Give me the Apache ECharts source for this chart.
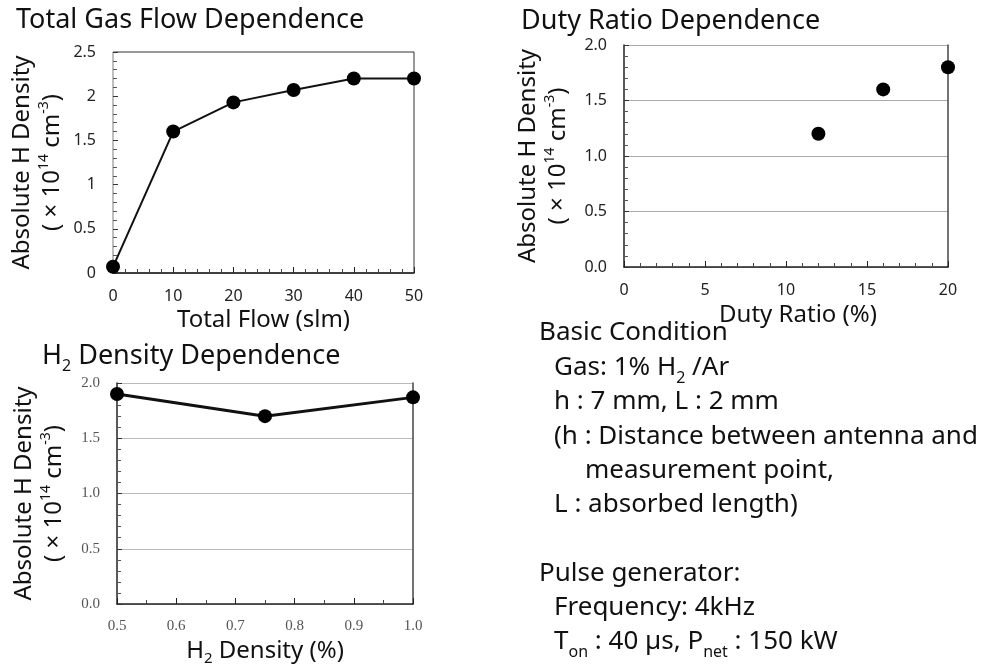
<!DOCTYPE html>
<html>
<head>
<meta charset="utf-8">
<script src="https://cdn.jsdelivr.net/npm/echarts@6/dist/echarts.min.js"></script>
<style>
  html, body { margin: 0; padding: 0; background: #fff; }
  #main { width: 992px; height: 668px; }
</style>
</head>
<body>
<div id="main"></div>
<script>
// total gas flow dependence
var flowX = [0, 10, 20, 30, 40, 50];
var flowY = [0.07, 1.6, 1.93, 2.07, 2.2, 2.2];
// duty ratio dependence
var dutyX = [12, 16, 20];
var dutyY = [1.2, 1.6, 1.8];
// H2 density dependence
var h2X = [0.5, 0.75, 1.0];
var h2Y = [1.9, 1.7, 1.87];

var FONT = 'Noto Sans';
var SERIF = 'Liberation Serif';

function pairs(xs, ys) {
  return xs.map(function (x, i) { return [x, ys[i]]; });
}

var densityName = 'Absolute H Density\n( × 10{sup|14} cm{sup|-3})';
var nameRich = {
  sup: { fontSize: 14, lineHeight: 14, verticalAlign: 'top', fontFamily: FONT, color: '#111' }
};

function yAxisCfg(idx, max, gap, fmt, labelFont, lineColor) {
  return {
    type: 'value', gridIndex: idx, min: 0, max: max, interval: 0.5,
    name: densityName, nameLocation: 'middle', nameGap: gap, nameRotate: 90,
    nameTextStyle: { fontFamily: FONT, fontSize: 24, lineHeight: 30, color: '#111', rich: nameRich },
    axisLine: { show: true, lineStyle: { color: lineColor, width: 1.5 } },
    axisTick: { show: true, inside: true, length: 5, lineStyle: { color: '#333' } },
    minorTick: { show: true, splitNumber: 5, length: 4, lineStyle: { color: '#555' } },
    axisLabel: { formatter: fmt, fontFamily: labelFont.family, fontSize: labelFont.size, color: labelFont.color, margin: 17 },
    splitLine: { show: false }
  };
}

// plain right-hand frame line
function rightFrame(idx, max) {
  return {
    type: 'value', gridIndex: idx, position: 'right', min: 0, max: max, interval: 0.5,
    axisLine: { show: true, lineStyle: { color: '#444', width: 1.5 } },
    axisTick: { show: false }, axisLabel: { show: false }, splitLine: { show: false }
  };
}

function xAxisCfg(idx, min, max, interval, minorSplit, name, gap, fmt, labelFont, namePad) {
  return {
    type: 'value', gridIndex: idx, min: min, max: max, interval: interval,
    name: name, nameLocation: 'middle', nameGap: gap,
    nameTextStyle: { fontFamily: FONT, fontSize: 24, lineHeight: 30, color: '#111', padding: namePad,
      rich: { sub: { fontSize: 15, lineHeight: 12, verticalAlign: 'bottom', fontFamily: FONT, color: '#111' } } },
    axisLine: { show: true, onZero: false, lineStyle: { color: '#222', width: 1.5 } },
    axisTick: { show: true, inside: true, length: 6, lineStyle: { color: '#222' } },
    minorTick: { show: true, splitNumber: minorSplit, length: 4, lineStyle: { color: '#444' } },
    axisLabel: { formatter: fmt, fontFamily: labelFont.family, fontSize: labelFont.size, color: labelFont.color, margin: 15 },
    splitLine: { show: false }
  };
}

var sansLabel = { family: FONT, size: 16, color: '#222' };
var serifLabel = { family: SERIF, size: 15, color: '#555' };
var oneDec = function (v) { return v.toFixed(1); };

var subRich = { sub: { fontSize: 16, lineHeight: 15, verticalAlign: 'bottom', fontFamily: FONT, fill: '#111' } };

function textLine(x, y, text, size) {
  return {
    type: 'text', x: x, y: y, silent: true,
    style: {
      text: text, fontFamily: FONT, fontSize: size, lineHeight: 36, fill: '#111',
      verticalAlign: 'middle', rich: subRich
    }
  };
}

var graphics = [
  textLine(16, 20, 'Total Gas Flow Dependence', 27),
  textLine(521, 21, 'Duty Ratio Dependence', 27),
  textLine(42, 356, 'H{sub|2} Density Dependence', 27),
  textLine(539, 333, 'Basic Condition', 26),
  textLine(554, 368, 'Gas: 1% H{sub|2} /Ar', 26),
  textLine(554, 402, 'h : 7 mm, L : 2 mm', 26),
  textLine(554, 437, '(h : Distance between antenna and', 26),
  textLine(585, 471, 'measurement point,', 26),
  textLine(554, 505, 'L : absorbed length)', 26),
  textLine(539, 574, 'Pulse generator:', 26),
  textLine(554, 608, 'Frequency: 4kHz', 26),
  textLine(554, 642, 'T{sub|on} : 40 µs, P{sub|net} : 150 kW', 26)
];

var option = {
  backgroundColor: '#fff',
  animation: false,
  grid: [
    { left: 113, top: 52, width: 301, height: 221, show: true, borderColor: '#333', borderWidth: 1, backgroundColor: 'transparent' },
    { left: 624, top: 45, width: 324, height: 222 },
    { left: 117, top: 383, width: 296, height: 221 }
  ],
  xAxis: [
    xAxisCfg(0, 0, 50, 10, 5, 'Total Flow (slm)', 30, null, sansLabel, 0),
    xAxisCfg(1, 0, 20, 5, 5, 'Duty Ratio (%)', 33, null, sansLabel, [0, 0, 0, 24]),
    xAxisCfg(2, 0.5, 1.0, 0.1, 2, 'H{sub|2} Density (%)', 32, oneDec, serifLabel, 0)
  ],
  yAxis: [
    yAxisCfg(0, 2.5, 46, null, sansLabel, '#ccc'),
    yAxisCfg(1, 2, 51, oneDec, sansLabel, '#222'),
    yAxisCfg(2, 2, 48, oneDec, serifLabel, '#222'),
    rightFrame(1, 2),
    rightFrame(2, 2)
  ],
  series: [
    {
      type: 'line', xAxisIndex: 0, yAxisIndex: 0, data: pairs(flowX, flowY),
      symbol: 'circle', symbolSize: 14, itemStyle: { color: '#000', opacity: 1 },
      lineStyle: { color: '#111', width: 2 }
    },
    {
      type: 'scatter', xAxisIndex: 1, yAxisIndex: 1, data: pairs(dutyX, dutyY),
      symbol: 'circle', symbolSize: 14, itemStyle: { color: '#000', opacity: 1 }
    },
    {
      type: 'line', xAxisIndex: 2, yAxisIndex: 2, data: pairs(h2X, h2Y),
      symbol: 'circle', symbolSize: 14, itemStyle: { color: '#000', opacity: 1 },
      lineStyle: { color: '#111', width: 3 }
    }
  ],
  graphic: graphics
};

// grey split lines for the duty ratio and H2 density plots
option.yAxis[1].splitLine = { show: true, lineStyle: { color: '#aaa', width: 1 } };
option.yAxis[2].splitLine = { show: true, lineStyle: { color: '#bbb', width: 1 } };

var chart = echarts.init(document.getElementById('main'));
chart.setOption(option);
</script>
</body>
</html>
